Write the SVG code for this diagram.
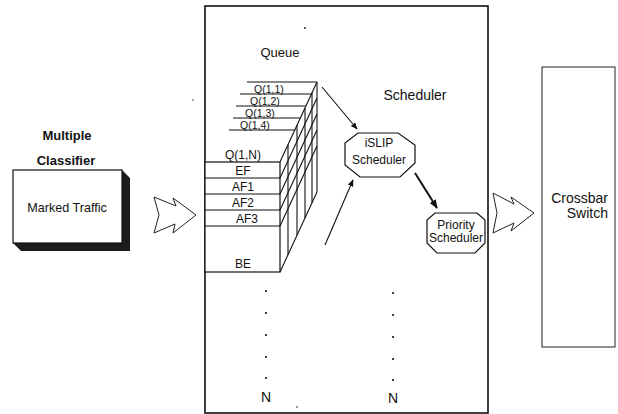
<svg xmlns="http://www.w3.org/2000/svg" width="618" height="414" viewBox="0 0 618 414">
  <defs>
    <style>
      .t { font-family: "Liberation Sans", Arial, sans-serif; fill: #111; text-anchor: middle; }
      .s11 { font-size: 10.5px; }
      .s12 { font-size: 12px; }
      .s13 { font-size: 13px; }
      .s14 { font-size: 14px; }
      .b { font-weight: bold; }
      .ln { fill: none; stroke: #111; stroke-width: 1.1; }
      .thin { fill: none; stroke: #222; stroke-width: 1; }
      .box { fill: #fff; stroke: #111; stroke-width: 1.2; }
      .dot { fill: #111; }
    </style>
    <marker id="ah" viewBox="0 0 10 10" refX="9" refY="5" markerWidth="7" markerHeight="7" orient="auto" markerUnits="userSpaceOnUse">
      <path d="M0,1 L10,5 L0,9 Z" fill="#111"/>
    </marker>
    <marker id="ahb" viewBox="0 0 10 10" refX="9" refY="5" markerWidth="9" markerHeight="9" orient="auto" markerUnits="userSpaceOnUse">
      <path d="M0,1 L10,5 L0,9 Z" fill="#111"/>
    </marker>
  </defs>

  <rect width="618" height="414" fill="#fff"/>

  <!-- classifier block with extruded dark side -->
  <g id="classifier">
    <text class="t s13 b" x="67" y="140">Multiple</text>
    <text class="t s13 b" x="66" y="165">Classifier</text>
    <polygon points="122,170 130,178 130,251 21,251 13,243 122,243" fill="#1c1c1c"/>
    <rect class="box" x="13" y="170" width="109" height="73" stroke-width="1.4"/>
    <text class="t s12" x="67" y="212" style="font-size:12.6px">Marked Traffic</text>
  </g>

  <!-- flow arrows -->
  <g id="flow-arrows">
    <polygon class="thin" points="154,197 176,206 173,198 196,215 173,233 175,224 154,233 159,215"/>
    <polygon class="thin" points="493,193 514,204 511,197 534,213 511,231 514,223 493,233 497,213"/>
  </g>

  <!-- main panel: queues and schedulers -->
  <g id="panel">
    <rect x="205" y="6" width="283" height="407" fill="none" stroke="#111" stroke-width="1.6"/>
    <circle class="dot" cx="305" cy="28" r="0.9"/>
    <circle class="dot" cx="297" cy="407" r="0.8"/>
    <circle class="dot" cx="193" cy="100" r="0.7"/>
  </g>

  <g id="queue-stack">
    <text class="t s13" x="280" y="57">Queue</text>
    <!-- back planes: top edges with labels -->
    <line class="ln" x1="247" y1="82" x2="317" y2="82"/>
    <line class="ln" x1="240" y1="94" x2="311.5" y2="94"/>
    <line class="ln" x1="236" y1="106" x2="306" y2="106"/>
    <line class="ln" x1="233" y1="118" x2="300.5" y2="118"/>
    <line class="ln" x1="229" y1="130" x2="295" y2="130"/>
    <text class="t s11" x="269" y="92.5">Q(1,1)</text>
    <text class="t s11" x="265" y="104.5">Q(1,2)</text>
    <text class="t s11" x="260" y="116.5">Q(1,3)</text>
    <text class="t s11" x="255" y="128.5">Q(1,4)</text>
    <text class="t s12" x="243" y="159">Q(1,N)</text>

    <!-- front face rows -->
    <rect x="205" y="162" width="75" height="110" fill="#fff" stroke="#111" stroke-width="1.2"/>
    <line class="ln" x1="205" y1="178" x2="280" y2="178"/>
    <line class="ln" x1="205" y1="194" x2="280" y2="194"/>
    <line class="ln" x1="205" y1="210" x2="280" y2="210"/>
    <line class="ln" x1="205" y1="226" x2="280" y2="226"/>
    <text class="t s12" x="243" y="175">EF</text>
    <text class="t s12" x="243" y="191">AF1</text>
    <text class="t s12" x="243" y="207">AF2</text>
    <text class="t s12" x="247" y="223">AF3</text>
    <text class="t s12" x="243" y="268">BE</text>

    <!-- side face: plane edges and row diagonals -->
    <line class="ln" x1="280" y1="162" x2="317" y2="82"/>
    <line class="ln" x1="280" y1="272" x2="317" y2="192"/>
    <line class="ln" x1="317" y1="82" x2="317" y2="192"/>
    <line class="ln" x1="280" y1="178" x2="317" y2="98"/>
    <line class="ln" x1="280" y1="194" x2="317" y2="114"/>
    <line class="ln" x1="280" y1="210" x2="317" y2="130"/>
    <line class="ln" x1="280" y1="226" x2="317" y2="146"/>
    <line class="ln" x1="288" y1="144.7" x2="288" y2="254.7"/>
    <line class="ln" x1="297" y1="125.2" x2="297" y2="235.2"/>
    <line class="ln" x1="305" y1="108" x2="305" y2="218"/>
    <line class="ln" x1="312" y1="92.8" x2="312" y2="202.8"/>

    <!-- continuation to N -->
    <circle class="dot" cx="266" cy="291" r="1.1"/>
    <circle class="dot" cx="266" cy="313" r="1.1"/>
    <circle class="dot" cx="266" cy="335" r="1.1"/>
    <circle class="dot" cx="266" cy="357" r="1.1"/>
    <circle class="dot" cx="266" cy="378" r="1.1"/>
    <text class="t s14" x="266" y="402">N</text>
  </g>

  <g id="islip-scheduler">
    <text class="t s14" x="415" y="100">Scheduler</text>
    <polygon class="box" points="358,133 398,133 415,145 415,163 400,177 360,177 345,165 345,143"/>
    <text class="t s12" x="379" y="147">iSLIP</text>
    <text class="t s12" x="379" y="164">Scheduler</text>
    <circle class="dot" cx="393" cy="293" r="1.1"/>
    <circle class="dot" cx="393" cy="315" r="1.1"/>
    <circle class="dot" cx="393" cy="337" r="1.1"/>
    <circle class="dot" cx="393" cy="359" r="1.1"/>
    <circle class="dot" cx="393" cy="380" r="1.1"/>
    <text class="t s14" x="393" y="403">N</text>
  </g>

  <g id="priority-scheduler">
    <polygon class="box" points="435,213 477,213 485,220 485,243 475,253 437,253 427,243 427,220"/>
    <text class="t s12" x="456" y="229">Priority</text>
    <text class="t s12" x="456" y="242">Scheduler</text>
  </g>

  <g id="crossbar">
    <rect x="542" y="67" width="73" height="280" fill="#fff" stroke="#222" stroke-width="1"/>
    <text class="t s14" x="608" y="203" style="text-anchor:end">Crossbar</text>
    <text class="t s14" x="608" y="218" style="text-anchor:end">Switch</text>
  </g>

  <!-- connectors -->
  <g id="connectors">
    <line class="ln" x1="322" y1="87" x2="357" y2="129" marker-end="url(#ah)"/>
    <line class="ln" x1="325" y1="245" x2="353" y2="180" marker-end="url(#ah)"/>
    <line x1="415" y1="173" x2="437" y2="208" stroke="#111" stroke-width="2" marker-end="url(#ahb)"/>
  </g>
</svg>
